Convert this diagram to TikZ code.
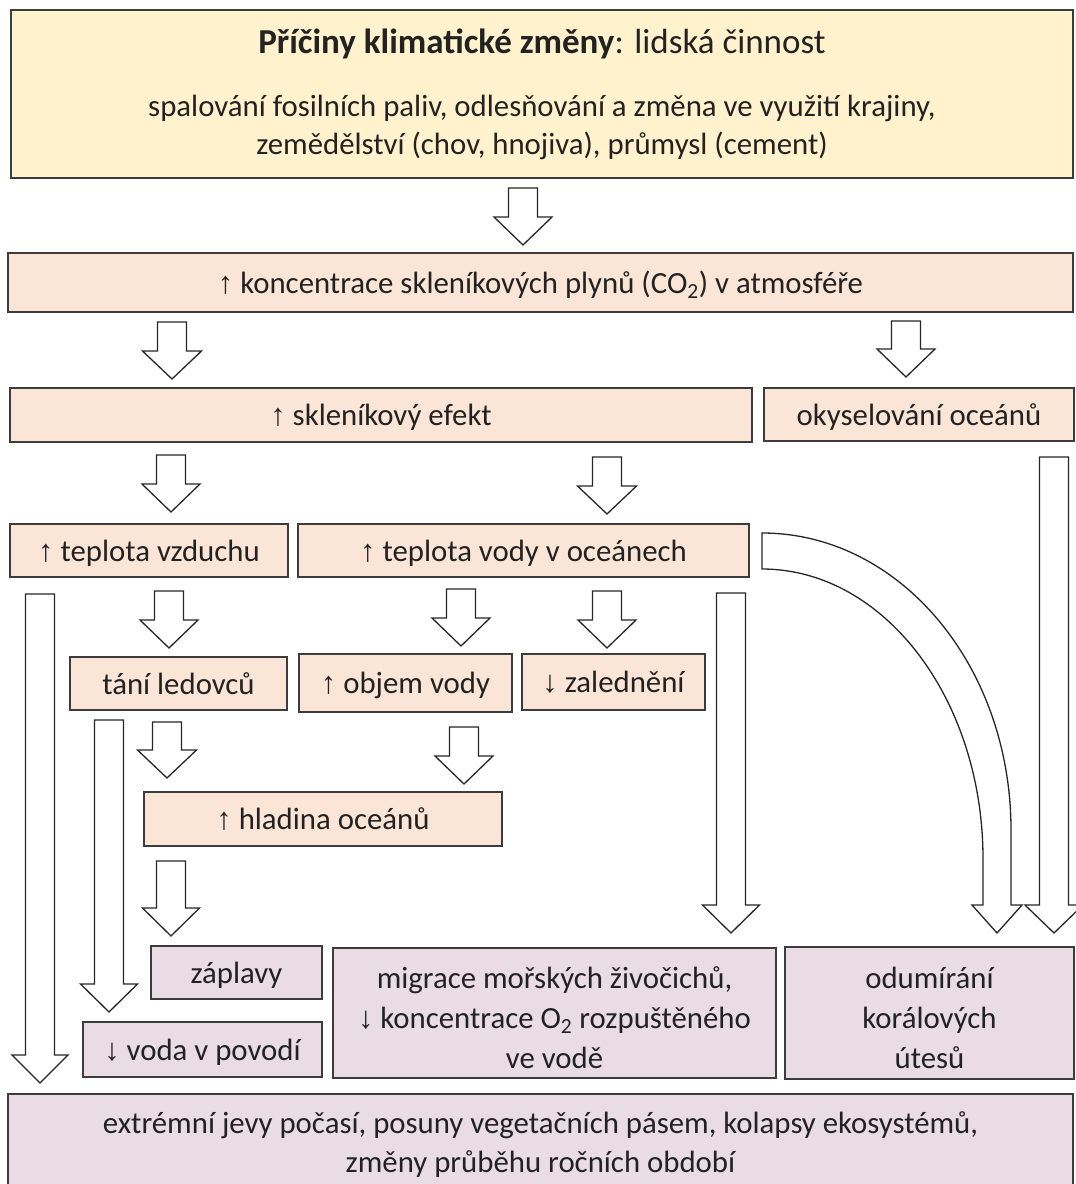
\documentclass[tikz,border=0pt]{standalone}
\usepackage{fontspec}
\setmainfont{Carlito}
\newfontfamily\arrfont{Liberation Sans}
\newcommand\uparr{{\arrfont ↑}}
\newcommand\downarr{{\arrfont ↓}}
\newcommand\dstr[1]{\rule[-#1pt]{0pt}{#1pt}}
\newcommand\hstr[1]{\rule{0pt}{#1pt}}
\definecolor{cYel}{HTML}{FFF2CC}
\definecolor{cPeach}{HTML}{FBE5D6}
\definecolor{cPink}{HTML}{E9DCE3}
\definecolor{cLine}{HTML}{3C3C3C}
\definecolor{cTxt}{HTML}{222222}
\newcommand\blockarr[4]{% x, ytop, ytip, head half width
  \draw[barrowst] (#1-14.5,#2) -- (#1+14.5,#2) -- (#1+14.5,#3-28) -- (#1+#4,#3-28) -- (#1,#3) -- (#1-#4,#3-28) -- (#1-14.5,#3-28) -- cycle;}
\begin{document}
\begin{tikzpicture}[x=1pt,y=-1pt,
  box/.style={draw=cLine, line width=1.6pt, inner sep=0pt, align=center, text=cTxt,
    font=\fontsize{30.8}{40}\selectfont},
  sline/.style={execute at begin node={\rule[-7pt]{0pt}{35pt}}},
  yelbox/.style={box, fill=cYel},
  peachbox/.style={box, sline, fill=cPeach},
  pinkbox/.style={box, sline, fill=cPink},
  barrowst/.style={draw=black!85, line width=1.3pt, fill=white, line join=miter}]
\useasboundingbox (0,0) rectangle (1076,1184);

% boxes
\node[yelbox, minimum width=1062, minimum height=168] (top) at (542,94)
  {\hstr{33}{\fontsize{35}{40}\selectfont\bfseries Příčiny klimatické změny\mdseries: lidská činnost}\\[23pt]
   spalování fosilních paliv, odlesňování a změna ve využití krajiny,\\[-2pt]
   zemědělství (chov, hnojiva), průmysl (cement)\dstr{13}};
\node[peachbox, minimum width=1065, minimum height=59] (conc) at (540.5,282.5)
  {\uparr{} koncentrace skleníkových plynů (CO\textsubscript{2}) v atmosféře};
\node[peachbox, minimum width=742, minimum height=54] (efekt) at (381,415)
  {\uparr{} skleníkový efekt};
\node[peachbox, minimum width=310, minimum height=53] (okys) at (919,414.5)
  {okyselování oceánů};
\node[peachbox, minimum width=278, minimum height=53] (vzduch) at (149,550.5)
  {\uparr{} teplota vzduchu};
\node[peachbox, minimum width=451, minimum height=53] (vodaoc) at (523.5,550.5)
  {\uparr{} teplota vody v oceánech};
\node[peachbox, minimum width=217, minimum height=53] (tani) at (178.5,683.5)
  {tání ledovců};
\node[peachbox, minimum width=213, minimum height=58] (objem) at (405.5,683)
  {\uparr{} objem vody};
\node[peachbox, minimum width=183, minimum height=56] (zaled) at (613.5,682)
  {\downarr{} zalednění};
\node[peachbox, minimum width=358, minimum height=54] (hladina) at (323,819)
  {\uparr{} hladina oceánů};
\node[pinkbox, minimum width=171, minimum height=53] (zaplavy) at (236.5,972.5)
  {záplavy};
\node[pinkbox, minimum width=239, minimum height=55] (povodi) at (202.5,1049.5)
  {\downarr{} voda v povodí};
\node[pinkbox, minimum width=443, minimum height=130] (migrace) at (554.5,1013)
  {\hstr{37}migrace mořských živočichů,\\ \downarr{} koncentrace O\textsubscript{2} rozpuštěného\\ ve vodě};
\node[pinkbox, minimum width=289, minimum height=132] (koraly) at (929.5,1013)
  {\hstr{37}odumírání\\ korálových\\ útesů};
\node[pinkbox, minimum width=1065, minimum height=95] (extrem) at (540.5,1141.5)
  {\hstr{29}extrémní jevy počasí, posuny vegetačních pásem, kolapsy ekosystémů,\\[-1pt] změny průběhu ročních období};

% block arrows
\blockarr{523}{188}{245}{29}   % top -> conc
\blockarr{172}{322}{379}{29.5} % conc -> efekt
\blockarr{906}{321}{377}{29}   % conc -> okys
\blockarr{171}{455}{512}{29}   % efekt -> vzduch
\blockarr{607}{457}{514}{29.5} % efekt -> vodaoc
\blockarr{169}{591}{648}{29}   % vzduch -> tani
\blockarr{461}{589}{646}{29}   % vodaoc -> objem
\blockarr{607}{591}{648}{29}   % vodaoc -> zaled
\blockarr{167}{722}{778}{29.5} % tani -> hladina
\blockarr{464}{727}{784}{29}   % objem -> hladina
\blockarr{171}{861}{936}{28.5} % hladina -> zaplavy
\blockarr{109}{720}{1012}{28.5}% tani -> povodi
\blockarr{40}{594}{1083}{28}   % vzduch -> extrem
\blockarr{731}{593}{933}{28.5} % vodaoc -> migrace
\blockarr{1054}{457}{933}{29}  % okys -> koraly
% curved arrow vodaoc -> koraly
\draw[barrowst] (762,533) .. controls (899.5,533) and (1011,665.5) .. (1011,830)
  -- (1011,905) -- (1022,905) -- (997,933) -- (972,905) -- (983,905) -- (983,859)
  .. controls (983,699) and (884,569) .. (762,569) -- cycle;
\end{tikzpicture}
\end{document}
